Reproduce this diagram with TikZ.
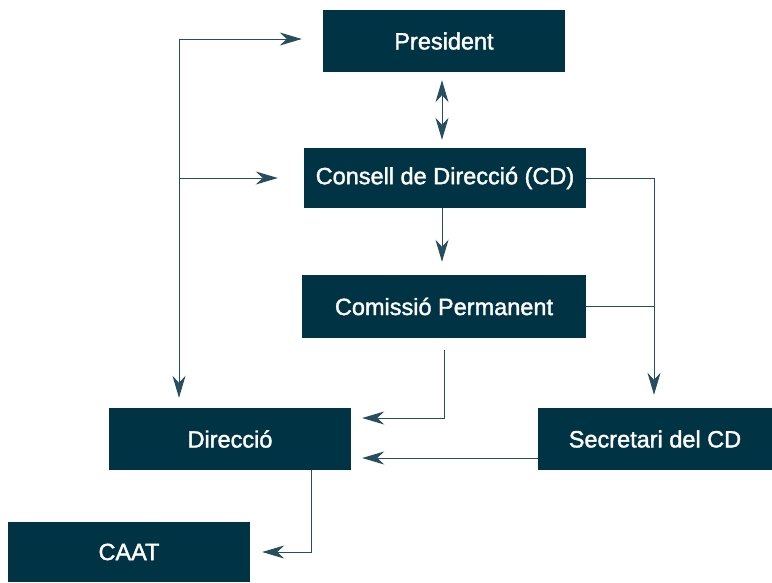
\documentclass[tikz,border=0pt]{standalone}
\usepackage{fontspec}
\newfontfamily\boxfont[FakeBold=1.6]{Liberation Sans}
\usepackage{xcolor}
\usepackage{tikz}
\usetikzlibrary{arrows.meta,positioning,calc}

\definecolor{boxblue}{RGB}{0,52,68}
\definecolor{lineblue}{RGB}{38,78,94}

\tikzset{
  orgbox/.style={fill=boxblue, text=white, inner sep=0pt,
    font=\boxfont\fontsize{23.5}{27}\selectfont},
  conn/.style={draw=lineblue, line width=1pt},
  arr/.style={conn, -{Stealth[length=22pt,width=13pt,inset=7pt]}},
  darr/.style={conn, {Stealth[length=22pt,width=13pt,inset=7pt]}-{Stealth[length=22pt,width=13pt,inset=7pt]}}
}

\begin{document}
\begin{tikzpicture}[x=1pt,y=-1pt]
% Frame
\useasboundingbox (0,0) rectangle (772,582);

% Boxes
\node[orgbox, minimum width=242pt, minimum height=62pt] (pres) at (444,41) {President};
\node[orgbox, minimum width=282pt, minimum height=60pt] (cd) at (445,178) {Consell de Direcció (CD)};
\node[orgbox, minimum width=284pt, minimum height=63pt] (cp) at (444,306.5) {Comissió Permanent};
\node[orgbox, minimum width=242pt, minimum height=62pt] (dir) at (230,439) {Direcció};
\node[orgbox, minimum width=234pt, minimum height=62pt] (sec) at (655,439) {Secretari del CD};
\node[orgbox, minimum width=242pt, minimum height=60pt] (caat) at (129,552) {CAAT};

% Left spine
\coordinate (spine) at (179,39);
\draw[arr] (spine) -- ([xshift=-21pt]spine -| pres.west);
\draw[arr] (spine) -- ([yshift=10pt]spine |- dir.north);
\draw[arr] (spine |- cd.west) -- ([xshift=-26pt]cd.west);

% Centre column
\draw[darr] ([xshift=-2pt,yshift=-8pt]pres.south) -- ([xshift=-3pt,yshift=8pt]cd.north);
\draw[arr] ([xshift=-3pt]cd.south) -- ([xshift=-2pt,yshift=13pt]cp.north);

% Right side
\draw[arr] (cd.east) -| ([xshift=-1pt,yshift=13pt]sec.north);
\draw[conn] (cp.east) -- ([xshift=-1pt]cp.east -| sec.north);

% Into Direccio
\draw[arr] ([yshift=-12pt]cp.south) |- ([xshift=11pt,yshift=21pt]dir.east);
\draw[arr] ([yshift=-19pt]sec.west) -- ([xshift=11pt,yshift=-19pt]dir.east);

% Down to CAAT
\draw[arr] ([xshift=81pt]dir.south) |- ([xshift=12pt]caat.east);

\end{tikzpicture}
\end{document}
